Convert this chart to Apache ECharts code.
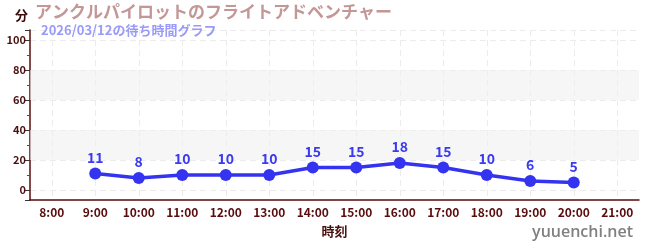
<!DOCTYPE html>
<html><head><meta charset="utf-8">
<script src="https://cdn.jsdelivr.net/npm/echarts@6/dist/echarts.min.js"></script>
<style>html,body{margin:0;padding:0;background:#fff}#c{width:650px;height:250px}</style>
</head><body><div id="c"></div>
<script>
const categories = ['8:00','9:00','10:00','11:00','12:00','13:00','14:00','15:00','16:00','17:00','18:00','19:00','20:00','21:00'];
const waitTimes = [null, 11, 8, 10, 10, 10, 15, 15, 18, 15, 10, 6, 5, null];
const yTicks = [0, 20, 40, 60, 80, 100];
const shadedBands = [[20, 40], [60, 80]];
const titleText = 'アンクルパイロットのフライトアドベンチャー';
const subText = '2026/03/12の待ち時間グラフ';

const chart = echarts.init(document.getElementById('c'), null, {renderer: 'canvas'});
const font = '"Noto Sans CJK JP", "Noto Sans", sans-serif';
chart.setOption({
  animation: false,
  textStyle: {fontFamily: font},
  title: [{
    text: titleText, left: 35, top: 3, padding: 0,
    textStyle: {color: '#c49797', fontSize: 17, fontWeight: 'bold', fontFamily: font}
  }, {
    text: subText, left: 41, top: 24, padding: 0,
    textStyle: {color: '#9a9af8', fontSize: 13, fontWeight: 'bold', fontFamily: font}
  }],
  graphic: [{
    type: 'text', right: 17, top: 224,
    style: {text: 'yuuenchi.net', fill: '#808080', font: '600 16px "Open Sans", "DejaVu Sans", sans-serif'}
  }],
  grid: {left: 30, right: 11, top: 30, bottom: 50},
  xAxis: {
    type: 'category', data: categories, boundaryGap: true,
    name: '時刻', nameLocation: 'middle', nameGap: 25,
    nameTextStyle: {color: '#4a0f0f', fontSize: 13, fontWeight: 'bold'},
    axisLine: {onZero: false, lineStyle: {color: '#5a0d0d', width: 1.5}},
    axisTick: {alignWithLabel: true, length: 4, lineStyle: {color: '#444'}},
    axisLabel: {color: '#5a0d0d', fontSize: 12, fontWeight: 'bold', margin: 6, interval: 0},
    splitLine: {show: true, alignWithLabel: true, lineStyle: {color: '#ececec', type: [6, 4]}}
  },
  yAxis: {
    type: 'value', min: -6.67, max: 106.67, splitNumber: 5,
    name: '分', nameLocation: 'end', nameGap: 8,
    nameTextStyle: {color: '#3a0a0a', fontSize: 13, fontWeight: 'bold', align: 'right', padding: [0, 2, 0, 0]},
    axisLine: {show: true, lineStyle: {color: '#5a0d0d', width: 1.5}},
    axisTick: {show: true, length: 5, lineStyle: {color: '#333'}},
    minorTick: {show: true, splitNumber: 2, length: 3, lineStyle: {color: '#e01010'}},
    axisLabel: {
      color: '#4a0f0f', fontSize: 11, fontWeight: 'bold', margin: 4,
      showMinLabel: false, showMaxLabel: false,
      formatter: v => (yTicks.indexOf(Math.round(v)) >= 0 && Math.abs(v - Math.round(v)) < 0.01) ? String(Math.round(v)) : ''
    },
    splitLine: {show: true, lineStyle: {color: '#ececec', type: [6, 4]}}
  },
  series: [{
    type: 'line', data: waitTimes, connectNulls: false,
    symbol: 'circle', symbolSize: 12,
    lineStyle: {color: '#3434f0', width: 3.5},
    itemStyle: {color: '#3434f0'},
    label: {show: true, position: 'top', distance: 3, color: '#3a3af0', fontSize: 14, fontWeight: 'bold'},
    markArea: {
      silent: true,
      itemStyle: {color: 'rgba(240,240,240,0.6)'},
      data: shadedBands.map(b => [{yAxis: b[0]}, {yAxis: b[1]}])
    },
    z: 3
  }]
});
</script></body></html>
